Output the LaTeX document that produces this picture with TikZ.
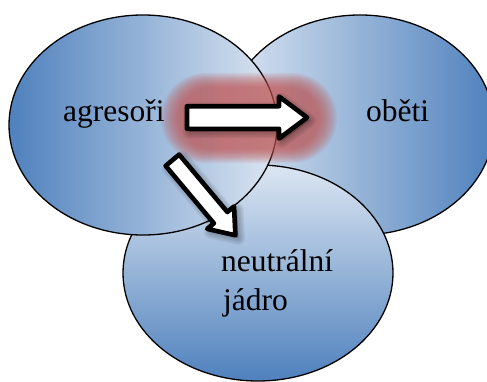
\documentclass[tikz,border=0pt]{standalone}
\usepackage{fontspec}
\setmainfont{Liberation Serif}
\usetikzlibrary{shapes.geometric}
\definecolor{darkb}{RGB}{79,129,189}
\definecolor{lightb}{RGB}{220,230,242}
\definecolor{glowred}{RGB}{192,80,77}
\newcommand\blkarrowpath[4]{(0,-#3) -- (#2,-#3) -- (#2,-#4) -- (#1,0) -- (#2,#4) -- (#2,#3) -- (0,#3) -- cycle}
\begin{document}
\begin{tikzpicture}[x=1pt,y=1pt,
  venn/.style={ellipse, draw=black, line width=1.3pt, minimum width=268pt, minimum height=220pt, inner sep=0pt, outer sep=0pt},
  blockarrow/.style={draw=black, fill=white, line width=4.6pt, line join=round},
  arrowshadow/.style={draw=black, fill=black, opacity=0.06, line join=round},
  lbl/.style={font=\fontsize{31.5}{38}\selectfont, inner sep=0pt, anchor=base west}]
\useasboundingbox (0,0) rectangle (487,381);
\begin{scope}
\clip (0,0) rectangle (487,381);
% ellipses, back to front
\node[venn, left color=lightb, right color=darkb] (victims) at (360,256) {};
\node[venn, top color=lightb, bottom color=darkb, minimum width=270pt, minimum height=216pt] (core) at (258,108) {};
\node[venn, left color=darkb, right color=lightb] (aggr) at (143,256) {};
% red glow
\foreach \i in {0,...,11}{
  \pgfmathsetmacro\ga{88-\i*18/11}
  \pgfmathsetmacro\gb{45-\i*14/11}
  \fill[glowred, opacity=0.095, rounded corners=\gb pt] (249-\ga,263-\gb) rectangle (249+\ga,263+\gb);
}
% shadows
\foreach \lw in {13,10,7,4}{
  \begin{scope}[shift={(189.5,260.5)}]
    \path[arrowshadow, line width=\lw pt] \blkarrowpath{120}{92}{11.3}{21};
  \end{scope}
  \begin{scope}[shift={(175.5,217.8)}, rotate=-50]
    \path[arrowshadow, line width=\lw pt] \blkarrowpath{98}{75}{8.8}{17.5};
  \end{scope}
}
% block arrows
\begin{scope}[shift={(187,263.5)}]
  \path[blockarrow] \blkarrowpath{120}{92}{11.3}{21};
\end{scope}
\begin{scope}[shift={(172.4,220.8)}, rotate=-50]
  \path[blockarrow] \blkarrowpath{98}{75}{8.8}{17.5};
\end{scope}
\end{scope}
% labels
\node[lbl] (tagg) at (63,259.4) {agresoři};
\node[lbl] (tvic) at (366,259.4) {oběti};
\node[lbl] (tcore1) at (221,109.3) {neutrální};
\node[lbl] (tcore2) at (223,71) {jádro};
\end{tikzpicture}
\end{document}
